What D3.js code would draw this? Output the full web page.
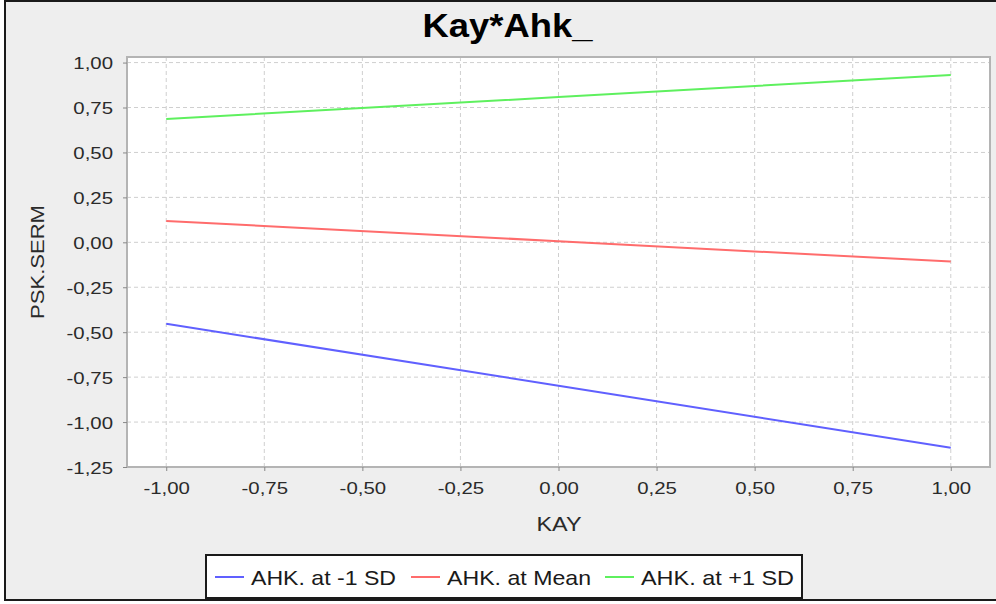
<!DOCTYPE html>
<html>
<head>
<meta charset="utf-8">
<script src="https://cdn.jsdelivr.net/npm/d3@7"></script>
<style>
  html, body { margin: 0; padding: 0; background: #ffffff; }
  svg { display: block; }
  text { font-family: "Liberation Sans", Arial, sans-serif; }
</style>
</head>
<body>
<svg id="chart" width="996" height="604"></svg>
<script>
// ---- data ----
const chartTitle = "Kay*Ahk_";
const xLabel = "KAY";
const yLabel = "PSK.SERM";
const kayValues = [-1, 0, 1];
const seriesNames = ["AHK. at -1 SD", "AHK. at Mean", "AHK. at +1 SD"];
const lowValues  = [-0.453, -0.798, -1.143];
const meanValues = [0.119, 0.006, -0.107];
const highValues = [0.686, 0.808, 0.931];
const xTickValues = [-1, -0.75, -0.5, -0.25, 0, 0.25, 0.5, 0.75, 1];
const yTickValues = [1, 0.75, 0.5, 0.25, 0, -0.25, -0.5, -0.75, -1, -1.25];
const seriesColors = ["#6060ff", "#ff6c6c", "#5ef05e"];

const series = [lowValues, meanValues, highValues].map((vals, i) => ({
  name: seriesNames[i], color: seriesColors[i],
  points: kayValues.map((k, j) => ({ x: k, y: vals[j] }))
}));

const svg = d3.select("#chart");
const fmt = v => d3.format(".2f")(v).replace(".", ",").replace("−", "-");

// frame
svg.append("rect").attr("x", 5).attr("y", 1).attr("width", 1000).attr("height", 599)
  .attr("fill", "#eeeeee").attr("stroke", "#1a1a1a").attr("stroke-width", 2);

const plot = { left: 127, top: 57, right: 990, bottom: 467 };
const x = d3.scaleLinear().domain([-1.1, 1.1]).range([plot.left, plot.right]);
const y = d3.scaleLinear().domain([-1.25, 1.031]).range([plot.bottom, plot.top]);

// plot background
svg.append("rect").attr("x", plot.left).attr("y", plot.top)
  .attr("width", plot.right - plot.left).attr("height", plot.bottom - plot.top)
  .attr("fill", "#ffffff");

// grid
const grid = svg.append("g");
grid.selectAll("line.v").data(xTickValues).join("line")
  .attr("x1", d => x(d)).attr("x2", d => x(d))
  .attr("y1", plot.top).attr("y2", plot.bottom)
  .attr("stroke", "#cfcfcf").attr("stroke-dasharray", "4,3");
grid.selectAll("line.h").data(yTickValues).join("line")
  .attr("y1", d => y(d)).attr("y2", d => y(d))
  .attr("x1", plot.left).attr("x2", plot.right)
  .attr("stroke", "#cfcfcf").attr("stroke-dasharray", "4,3");

// lines
const line = d3.line().x(d => x(d.x)).y(d => y(d.y));
svg.append("g").selectAll("path").data(series).join("path")
  .attr("d", d => line(d.points)).attr("fill", "none")
  .attr("stroke", d => d.color).attr("stroke-width", 2);

// plot border
svg.append("rect").attr("x", plot.left).attr("y", plot.top)
  .attr("width", plot.right - plot.left).attr("height", plot.bottom - plot.top)
  .attr("fill", "none").attr("stroke", "#b4b4b4").attr("stroke-width", 2);

// axes
const xAxis = d3.axisBottom(x).tickValues(xTickValues).tickFormat(fmt).tickSize(4).tickPadding(11);
const yAxis = d3.axisLeft(y).tickValues(yTickValues).tickFormat(fmt).tickSize(4).tickPadding(10);

const gx = svg.append("g").attr("transform", `translate(0,${plot.bottom})`).call(xAxis);
const gy = svg.append("g").attr("transform", `translate(${plot.left},0)`).call(yAxis);
[gx, gy].forEach(g => {
  g.select(".domain").remove();
  g.selectAll(".tick line").attr("stroke", "#888");
  g.selectAll(".tick text").attr("font-size", 17).attr("fill", "#2a2a2a")
    .attr("font-family", "Liberation Sans, Arial, sans-serif");
});
gx.selectAll(".tick text").attr("transform", "scale(1.2,1)").attr("dy", "0.72em");
gy.selectAll(".tick text").attr("transform", "scale(1.2,1)").attr("dy", "0.36em")
  .attr("x", -14 / 1.2);

// title
svg.append("text").attr("x", 507.5).attr("y", 37).attr("text-anchor", "middle")
  .attr("font-size", 33).attr("font-weight", "bold").attr("fill", "#000")
  .attr("textLength", 170).attr("lengthAdjust", "spacingAndGlyphs")
  .text(chartTitle);

// axis labels
svg.append("text").attr("x", 559).attr("y", 531).attr("text-anchor", "middle")
  .attr("font-size", 21).attr("fill", "#2a2a2a")
  .attr("textLength", 45).attr("lengthAdjust", "spacingAndGlyphs")
  .text(xLabel);
svg.append("text").attr("transform", "translate(44,262) rotate(-90)")
  .attr("text-anchor", "middle").attr("font-size", 18).attr("fill", "#2a2a2a")
  .attr("textLength", 114).attr("lengthAdjust", "spacingAndGlyphs")
  .text(yLabel);

// legend
const legend = svg.append("g");
legend.append("rect").attr("x", 206).attr("y", 555).attr("width", 596).attr("height", 43)
  .attr("fill", "#ffffff").attr("stroke", "#1a1a1a").attr("stroke-width", 2);
const legendLineX = [215, 411, 605];
const legendTextW = [145, 144, 153];
const items = legend.selectAll("g.item").data(series).join("g")
  .attr("transform", (d, i) => `translate(${legendLineX[i]},577)`);
items.append("line").attr("x1", 0).attr("x2", 29).attr("y1", 0).attr("y2", 0)
  .attr("stroke", d => d.color).attr("stroke-width", 2);
items.append("text").attr("x", 36).attr("y", 8).attr("font-size", 21).attr("fill", "#1a1a1a")
  .attr("textLength", (d, i) => legendTextW[i]).attr("lengthAdjust", "spacingAndGlyphs")
  .text(d => d.name);
</script>
</body>
</html>
